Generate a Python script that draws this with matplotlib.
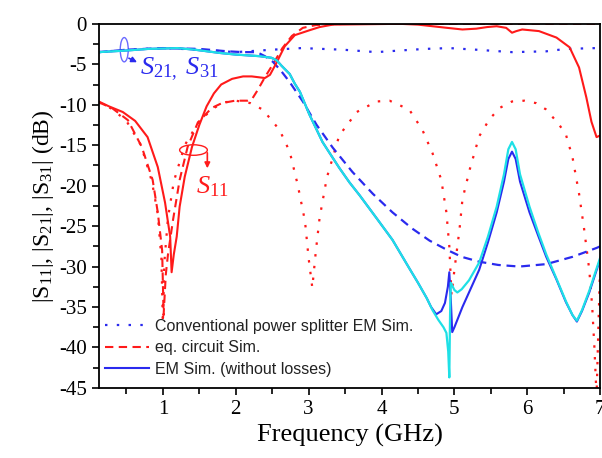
import matplotlib
matplotlib.use('Agg')
import matplotlib.pyplot as plt
from matplotlib.patches import Ellipse
from matplotlib.ticker import MultipleLocator

plt.rcParams['font.family'] = ['Liberation Serif', 'DejaVu Serif']
plt.rcParams['mathtext.fontset'] = 'custom'
plt.rcParams['mathtext.rm'] = 'Liberation Serif'
plt.rcParams['mathtext.it'] = 'Liberation Serif:italic'
plt.rcParams['axes.unicode_minus'] = False

# conventional power splitter EM sim (dotted)
conv_f11 = [0.12, 0.3, 0.5, 0.7, 0.85, 0.93, 0.98, 1.0, 1.02, 1.07, 1.15, 1.3, 1.5, 1.7, 1.85,
            2.0, 2.2, 2.37, 2.6, 2.74, 2.85, 2.95, 3.0, 3.05, 3.1, 3.15, 3.25, 3.42, 3.66, 3.93,
            4.11, 4.38, 4.56, 4.7, 4.82, 4.89, 4.93, 4.96, 5.0, 5.07, 5.11, 5.21, 5.34, 5.48,
            5.62, 5.79, 5.96, 6.12, 6.26, 6.44, 6.53, 6.62, 6.71, 6.78, 6.85, 6.89, 6.92, 6.95,
            6.98, 7.0]
conv_s11 = [-9.7, -10.5, -12.0, -15.0, -19.5, -23.5, -29.0, -37.0, -29.5, -24.0, -19.5, -15.0,
            -12.0, -10.4, -9.7, -9.5, -9.8, -10.6, -13.1, -15.8, -19.9, -24.4, -29.0, -32.6,
            -28.0, -24.0, -19.0, -13.8, -10.9, -9.6, -9.5, -10.6, -13.1, -16.0, -19.3, -23.3,
            -27.5, -33.5, -30.4, -25.4, -21.7, -18.0, -13.9, -11.8, -10.4, -9.6, -9.5, -9.8,
            -10.6, -12.5, -13.7, -16.5, -21.0, -25.4, -30.4, -34.9, -39.9, -46.0, -36.0, -29.5]
conv_f21 = [0.12, 0.5, 1.0, 1.5, 2.0, 2.5, 2.9, 3.47, 3.93, 4.25, 4.6, 4.93, 5.3, 5.79, 6.26,
            6.53, 6.95, 7.0]
conv_s21 = [-3.5, -3.2, -3.0, -3.2, -3.5, -3.2, -3.0, -3.2, -3.5, -3.3, -3.1, -3.0, -3.2, -3.5,
            -3.4, -3.1, -3.0, -3.0]

# equivalent circuit sim (dashed)
eq_f11 = [0.12, 0.3, 0.52, 0.71, 0.86, 0.93, 0.99, 1.01, 1.04, 1.07, 1.14, 1.23, 1.34, 1.48,
          1.67, 1.81, 1.99, 2.16, 2.23, 2.3, 2.4, 2.51, 2.64, 2.77, 2.92, 3.1, 3.5, 4.5, 5.5,
          6.5, 7.0]
eq_s11 = [-9.7, -10.4, -11.9, -15.2, -19.3, -23.3, -28.0, -36.0, -31.0, -28.5, -24.2, -19.3,
          -15.2, -12.2, -10.4, -9.8, -9.5, -9.5, -9.2, -8.2, -6.6, -5.0, -3.0, -1.5, -0.5,
          -0.15, 0.0, 0.0, 0.0, 0.0, 0.0]
eq_f21 = [0.12, 0.5, 1.0, 1.5, 1.89, 2.1, 2.29, 2.4, 2.51, 2.62, 2.74, 2.92, 3.11, 3.33, 3.6,
          3.88, 4.15, 4.42, 4.66, 4.89, 5.1, 5.34, 5.6, 5.89, 6.26, 6.62, 6.95, 7.0]
eq_s21 = [-3.5, -3.2, -3.0, -3.1, -3.4, -3.5, -3.5, -4.0, -4.7, -5.8, -7.2, -9.6, -12.5, -15.3,
          -18.3, -21.0, -23.3, -25.3, -26.8, -27.9, -28.8, -29.4, -29.8, -30.0, -29.7, -28.8,
          -27.7, -27.5]

# EM sim without losses (solid)
em_f11 = [0.12, 0.26, 0.45, 0.62, 0.79, 0.93, 1.03, 1.1, 1.12, 1.15, 1.19, 1.23, 1.3, 1.4, 1.5,
          1.6, 1.7, 1.8, 1.95, 2.1, 2.22, 2.4, 2.47, 2.56, 2.67, 2.81, 3.01, 3.15, 3.33, 4.25,
          4.5, 4.7, 4.9, 5.11, 5.3, 5.45, 5.58, 5.71, 5.79, 5.85, 5.93, 6.16, 6.4, 6.58, 6.71,
          6.81, 6.88, 6.95, 7.0]
em_s11 = [-9.6, -10.2, -10.9, -12.0, -14.0, -17.7, -22.1, -26.3, -30.7, -28.5, -26.3, -22.6,
          -18.9, -15.2, -12.5, -10.2, -8.6, -7.5, -6.8, -6.5, -6.5, -6.7, -6.3, -4.8, -2.8,
          -1.4, -0.8, -0.4, -0.1, 0.0, -0.1, -0.3, -0.5, -0.7, -0.6, -0.4, -0.3, -0.5, -1.1,
          -0.9, -0.7, -0.9, -1.7, -2.9, -5.4, -9.1, -12.1, -14.0, -13.8]
em_f21 = [0.12, 0.5, 0.8, 1.2, 1.44, 1.78, 2.0, 2.33, 2.49, 2.56, 2.63, 2.74, 2.81, 2.88, 3.01,
          3.19, 3.29, 3.42, 3.56, 3.7, 3.93, 4.15, 4.38, 4.5, 4.62, 4.68, 4.75, 4.82, 4.87,
          4.91, 4.93, 4.95, 4.97, 5.0, 5.11, 5.2, 5.34, 5.46, 5.58, 5.68, 5.74, 5.79, 5.84,
          5.9, 6.03, 6.15, 6.26, 6.4, 6.53, 6.62, 6.68, 6.75, 6.85, 6.93, 7.0]
em_s21 = [-3.5, -3.3, -3.1, -3.0, -3.2, -3.6, -3.8, -4.0, -4.2, -4.5, -5.2, -6.2, -7.4, -8.4,
          -11.2, -14.6, -16.0, -17.8, -19.6, -21.2, -24.0, -26.7, -30.2, -32.0, -33.9, -35.0,
          -35.9, -35.5, -34.5, -32.5, -30.7, -34.0, -38.1, -37.5, -35.0, -33.2, -30.4, -27.0,
          -23.3, -19.5, -16.7, -15.8, -16.7, -19.5, -23.3, -26.2, -28.8, -31.6, -34.4, -36.0,
          -36.8, -35.5, -33.2, -31.0, -29.1]
em_f31 = [0.12, 0.5, 0.8, 1.2, 1.44, 1.78, 2.0, 2.33, 2.49, 2.56, 2.63, 2.74, 2.81, 2.88, 3.01,
          3.19, 3.29, 3.42, 3.56, 3.7, 3.93, 4.15, 4.38, 4.5, 4.62, 4.7, 4.78, 4.85, 4.89,
          4.915, 4.93, 4.94, 4.95, 5.0, 5.04, 5.1, 5.2, 5.34, 5.46, 5.58, 5.68, 5.74, 5.79,
          5.84, 5.9, 6.03, 6.15, 6.26, 6.4, 6.53, 6.62, 6.68, 6.75, 6.85, 6.93, 7.0]
em_s31 = [-3.5, -3.3, -3.1, -3.0, -3.2, -3.6, -3.8, -4.0, -4.2, -4.5, -5.2, -6.2, -7.4, -8.4,
          -11.2, -14.6, -16.0, -17.8, -19.6, -21.2, -24.0, -26.7, -30.2, -32.0, -33.9, -35.4,
          -36.6, -37.5, -38.2, -40.5, -43.7, -36.0, -32.0, -32.9, -33.2, -32.8, -31.7, -29.5,
          -26.3, -22.6, -18.6, -15.5, -14.6, -15.5, -18.6, -22.6, -25.8, -28.5, -31.5, -34.3,
          -36.0, -36.7, -35.4, -33.0, -30.8, -28.9]

red = '#ff1a1a'
blue = '#2a2aee'
cyan = '#1ee0e6'
dots = (0, (1.1, 4.2))
dashes = (0, (4, 2.6))

fig = plt.figure(figsize=(6.02, 4.58), dpi=100)
ax = fig.add_axes([0.164, 0.153, 0.833, 0.795])

ax.plot(conv_f11, conv_s11, color=red, lw=1.6, linestyle=dots)
ax.plot(conv_f21, conv_s21, color=blue, lw=1.6, linestyle=dots,
        label='Conventional power splitter EM Sim.')
ax.plot(eq_f11, eq_s11, color=red, lw=1.5, linestyle=dashes, label='eq. circuit Sim.')
ax.plot(eq_f21, eq_s21, color=blue, lw=1.6, linestyle=dashes)
ax.plot(em_f11, em_s11, color=red, lw=1.5)
ax.plot(em_f21, em_s21, color=blue, lw=1.5, label='EM Sim. (without losses)')
ax.plot(em_f31, em_s31, color=cyan, lw=1.6)

ax.set_xlim(0.12, 7.0)
ax.set_ylim(-45, 0)
ax.xaxis.set_major_locator(MultipleLocator(1))
ax.xaxis.set_minor_locator(MultipleLocator(0.5))
ax.yaxis.set_major_locator(MultipleLocator(5))
ax.yaxis.set_minor_locator(MultipleLocator(2.5))
ax.tick_params(which='both', direction='out', top=False, right=False, width=1.2)
ax.tick_params(which='major', length=5, labelsize=15)
ax.tick_params(which='minor', length=4)
for s in ax.spines.values():
    s.set_linewidth(1.3)

ax.set_xlabel('Frequency (GHz)', fontsize=19, labelpad=4)
ax.set_ylabel(r'|S$_{11}$|, |S$_{21}$|, |S$_{31}$| (dB)', fontsize=17, labelpad=2)

leg = ax.legend(loc='upper left', bbox_to_anchor=(0.012, 0.19), frameon=False,
                prop={'family': 'Liberation Sans', 'size': 11.5}, handlelength=2.8,
                handletextpad=0.35, labelspacing=0.4, borderpad=0, borderaxespad=0)
for t in leg.get_texts():
    t.set_color('#222222')

# S21, S31 marker
ax.add_patch(Ellipse((0.47, -3.2), 0.11, 3.0, fill=False, ec='#6a6aff', lw=1.0))
ax.annotate('', xy=(0.68, -4.9), xytext=(0.5, -4.1),
            arrowprops=dict(arrowstyle='-|>', color=blue, lw=1.2, mutation_scale=8))
ax.text(0.69, -6.3, r'$S_{21,}\ S_{31}$', color=blue, fontsize=19)

# S11 marker
ax.add_patch(Ellipse((1.42, -15.6), 0.38, 1.3, fill=False, ec=red, lw=1.0))
ax.annotate('', xy=(1.61, -18.2), xytext=(1.61, -15.6),
            arrowprops=dict(arrowstyle='-|>', color=red, lw=1.2, mutation_scale=8))
ax.text(1.46, -20.9, r'$S_{11}$', color=red, fontsize=19)

fig.savefig('out.png', dpi=100)
